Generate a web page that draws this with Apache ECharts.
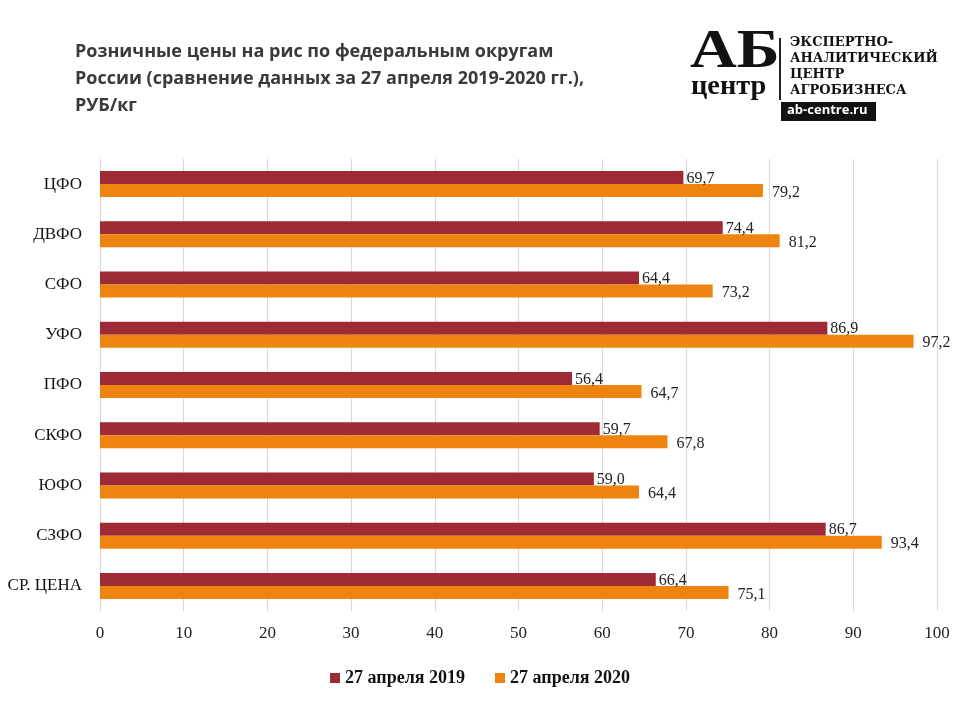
<!DOCTYPE html>
<html><head><meta charset="utf-8">
<script src="https://cdn.jsdelivr.net/npm/echarts@6/dist/echarts.min.js"></script>
<style>html,body{margin:0;padding:0;background:#fff}#c{width:960px;height:720px}</style>
</head><body><div id="c"></div>
<script>
const categories = ['ЦФО','ДВФО','СФО','УФО','ПФО','СКФО','ЮФО','СЗФО','СР. ЦЕНА'];
const values2019 = [69.7, 74.4, 64.4, 86.9, 56.4, 59.7, 59.0, 86.7, 66.4];
const values2020 = [79.2, 81.2, 73.2, 97.2, 64.7, 67.8, 64.4, 93.4, 75.1];
const seriesNames = ['27 апреля 2019', '27 апреля 2020'];
const xTicks = [0,10,20,30,40,50,60,70,80,90,100];

const serif = '"Liberation Serif", "DejaVu Serif", serif';
const fmt = p => p.value.toFixed(1).replace('.', ',');
const chart = echarts.init(document.getElementById('c'));
chart.setOption({
  animation: false,
  grid: {left: 100, right: 23, top: 159, bottom: 109, containLabel: false},
  xAxis: {
    type: 'value', min: xTicks[0], max: xTicks[xTicks.length-1], interval: 10,
    axisLine: {show: false}, axisTick: {show: false},
    splitLine: {lineStyle: {color: '#d9d9d9', width: 1}},
    axisLabel: {fontFamily: serif, fontSize: 17, color: '#222', margin: 14}
  },
  yAxis: {
    type: 'category', data: categories, inverse: true,
    axisLine: {show: false}, axisTick: {show: false},
    axisLabel: {fontFamily: serif, fontSize: 17, color: '#111', margin: 18}
  },
  legend: {
    data: seriesNames, bottom: 28, left: 'center', itemWidth: 10, itemHeight: 10, itemGap: 30,
    icon: 'rect',
    textStyle: {fontFamily: serif, fontSize: 18, fontWeight: 'bold', color: '#111'}
  },
  series: [
    {name: seriesNames[0], type: 'bar', data: values2019, barWidth: 13, barGap: '0%',
     itemStyle: {color: '#9E2A36'},
     label: {show: true, position: 'right', distance: 3, offset: [0, 1], formatter: fmt,
             fontFamily: serif, fontSize: 16, color: '#222'}},
    {name: seriesNames[1], type: 'bar', data: values2020, barWidth: 13, barGap: '0%',
     itemStyle: {color: '#EE840F'},
     label: {show: true, position: 'right', distance: 9, offset: [0, 2], formatter: fmt,
             fontFamily: serif, fontSize: 16, color: '#222'}}
  ],
  graphic: [
    {type: 'text', left: 75, top: 38, style: {
      text: 'Розничные цены на рис по федеральным округам\nРоссии (сравнение данных за 27 апреля 2019-2020 гг.),\nРУБ/кг',
      font: 'bold 18px "Open Sans", sans-serif', fill: '#3a3a3a', lineHeight: 27}},
    {type: 'text', left: 690, top: 26, scaleX: 1.2, style: {text: 'АБ', font: 'bold 54px "Liberation Serif", serif', fill: '#111'}},
    {type: 'text', left: 691, top: 74, scaleX: 1.05, style: {text: 'центр', font: 'bold 27px "Liberation Serif", serif', fill: '#111'}},
    {type: 'rect', shape: {x: 779, y: 38, width: 2, height: 62}, style: {fill: '#222'}},
    {type: 'text', left: 790, top: 35, style: {
      text: 'ЭКСПЕРТНО-\nАНАЛИТИЧЕСКИЙ\nЦЕНТР\nАГРОБИЗНЕСА',
      font: 'bold 13px "DejaVu Serif", serif', fill: '#111', lineHeight: 16}},
    {type: 'rect', shape: {x: 781, y: 102, width: 95, height: 19}, style: {fill: '#111'}},
    {type: 'text', left: 787, top: 104, style: {text: 'ab-centre.ru', font: 'bold 13px "Open Sans", sans-serif', fill: '#fff'}}
  ]
});
</script></body></html>
